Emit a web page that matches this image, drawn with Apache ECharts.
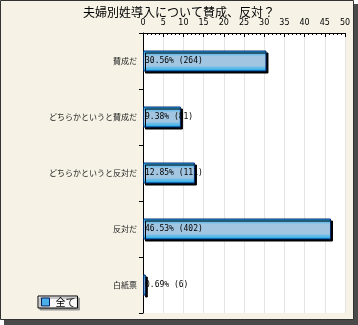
<!DOCTYPE html>
<html>
<head>
<meta charset="utf-8">
<script src="https://cdn.jsdelivr.net/npm/echarts@6/dist/echarts.min.js"></script>
<style>
  html, body { margin: 0; padding: 0; background: #fff; }
  #chart { width: 358px; height: 325px; }
</style>
</head>
<body>
<div id="chart"></div>
<script>
const categories = ["賛成だ", "どちらかというと賛成だ", "どちらかというと反対だ", "反対だ", "白紙票"];
const percents = [30.56, 9.38, 12.85, 46.53, 0.69];
const counts = [264, 81, 111, 402, 6];

const chart = echarts.init(document.getElementById("chart"));

const barFill = new echarts.graphic.LinearGradient(0, 0, 0, 1, [
  { offset: 0, color: "#0aaaf2" },
  { offset: 0.28, color: "#a2c6e2" },
  { offset: 0.72, color: "#a2c6e2" },
  { offset: 1, color: "#0aaaf2" }
]);

const option = {
  animation: false,
  graphic: [
    // drop shadow of the panel
    { type: "rect", z: -10, shape: { x: 4, y: 4, width: 354, height: 321 }, style: { fill: "#4a4a4a" } },
    // panel
    { type: "rect", z: -9, shape: { x: 0.5, y: 0.5, width: 353, height: 319 }, style: { fill: "#f6f2e6", stroke: "#333", lineWidth: 1 } }
  ],
  title: {
    text: "夫婦別姓導入について賛成、反対？",
    left: "center",
    top: 1,
    textStyle: {
      color: "#000",
      fontWeight: "normal",
      fontFamily: "Noto Sans CJK JP",
      fontSize: 12
    }
  },
  legend: {
    left: 38,
    top: 296,
    orient: "horizontal",
    icon: "rect",
    itemWidth: 8,
    itemHeight: 8,
    itemGap: 2,
    padding: [1, 2, 1, 3],
    borderColor: "#000",
    borderWidth: 1,
    backgroundColor: "#f8f8f8",
    shadowColor: "#999",
    shadowOffsetX: 2,
    shadowOffsetY: 2,
    textStyle: { fontSize: 10, color: "#000", fontFamily: "Noto Sans CJK JP", padding: [0, 0, 0, 1] },
    data: [{ name: "全て", itemStyle: { color: "#4aaee8", borderColor: "#002060", borderWidth: 1 } }]
  },
  grid: {
    left: 143,
    right: 13,
    top: 33,
    bottom: 12,
    show: true,
    backgroundColor: "#fff",
    borderWidth: 0
  },
  xAxis: {
    type: "value",
    position: "top",
    min: 0,
    max: 50,
    interval: 5,
    axisLine: { show: true, lineStyle: { color: "#000", width: 1 } },
    axisTick: { show: true, inside: true, length: 4, lineStyle: { color: "#000" } },
    minorTick: { show: true, splitNumber: 5, length: 2, lineStyle: { color: "#000" } },
    axisLabel: { fontSize: 8, color: "#000", margin: 6, fontFamily: "DejaVu Sans" },
    splitLine: { show: true, lineStyle: { color: "#e4e4e4", width: 1 } }
  },
  yAxis: {
    type: "category",
    inverse: true,
    data: categories,
    axisLine: { show: true, lineStyle: { color: "#000", width: 1 } },
    axisTick: { show: true, length: 4, lineStyle: { color: "#000" } },
    axisLabel: { fontSize: 8, color: "#222", margin: 6, fontFamily: "Noto Sans CJK JP" },
    splitLine: { show: false }
  },
  series: [{
    name: "全て",
    type: "bar",
    data: percents,
    barWidth: 21,
    itemStyle: {
      color: barFill,
      borderColor: "#002a6e",
      borderWidth: 1,
      shadowColor: "#000",
      shadowOffsetX: 2,
      shadowOffsetY: 2,
      shadowBlur: 0
    },
    label: {
      show: true,
      position: "insideLeft",
      distance: 2,
      color: "#000",
      fontSize: 8,
      fontFamily: "DejaVu Sans Mono",
      formatter: function (p) {
        return p.value.toFixed(2) + "% (" + counts[p.dataIndex] + ")";
      }
    }
  }]
};

chart.setOption(option);
</script>
</body>
</html>
